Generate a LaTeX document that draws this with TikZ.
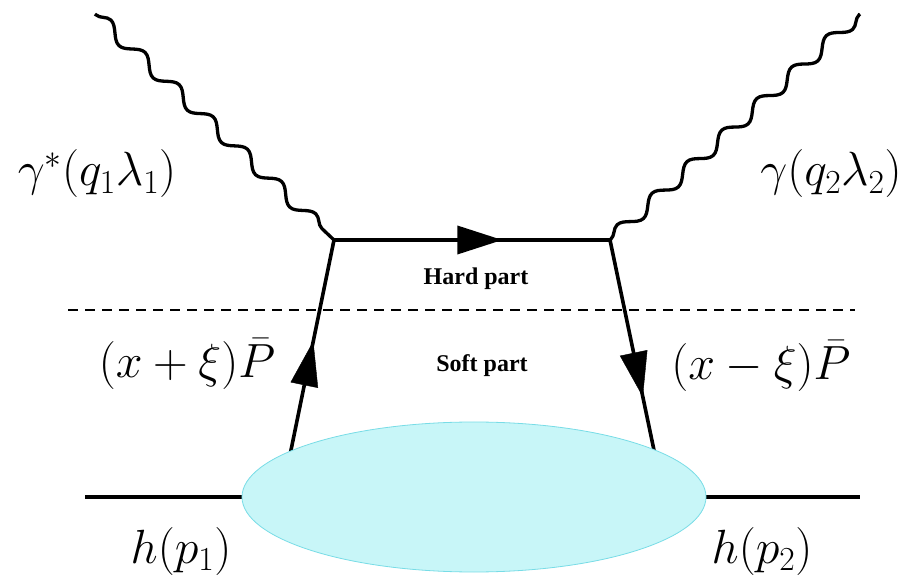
\RequirePackage{fix-cm}
\documentclass[tikz,border=0pt]{standalone}
\usepackage{fontspec}
\setmainfont{Liberation Serif}
\usetikzlibrary{arrows.meta,decorations.pathmorphing,decorations.markings,shapes.geometric}
\begin{document}
\begin{tikzpicture}[x=1pt,y=-1pt,
  photon/.style={line width=3.3pt,decorate,decoration={snake,segment length=47pt,amplitude=6.5pt,pre length=1pt,post length=1pt}},
  quark/.style={line width=3.6pt},
  fermarrow/.style={postaction={decorate},decoration={markings,mark=at position #1 with {\arrow{Triangle[length=45pt,width=28pt]}}}},
  biglabel/.style={anchor=base,inner sep=0pt,font=\fontsize{48}{56}\selectfont},
  partlabel/.style={anchor=base,inner sep=0pt,font=\bfseries\fontsize{24}{28}\selectfont},
  blobstyle/.style={ellipse,draw={rgb,255:red,120;green,220;blue,230},line width=0.8pt,fill={rgb,255:red,200;green,246;blue,248},minimum width=464pt,minimum height=150pt,inner sep=0pt}
]
\useasboundingbox (0,0) rectangle (914,585);
% vertices
\coordinate (v1) at (334,240);
\coordinate (v2) at (610,240);
\coordinate (p1) at (95,14);
\coordinate (p2) at (860,14);
\coordinate (hl) at (85,497);
\coordinate (hr) at (860,497);
\coordinate (dl) at (68,310);
\coordinate (dr) at (855,310);
\coordinate (b1) at (290,455);
\coordinate (b2) at (655,455);
% hadron lines
\draw[quark] (hl) -- (250,497);
\draw[quark] (700,497) -- (hr);
% quark lines
\draw[quark] (v1) -- (b1);
\draw[quark] (v2) -- (b2);
\draw[quark,fermarrow=0.61] (v1) -- (v2);
% arrows on side lines
\path[fermarrow=0.53] (b1) -- (v1);
\path[fermarrow=0.73] (v2) -- (b2);
% blob
\node[blobstyle] (blob) at (474,497) {};
% photons
\draw[photon] (p1) -- (v1);
\draw[photon] (v2) -- (p2);
% dashed cut
\draw[line width=1.2pt,dash pattern=on 10pt off 7pt] (dl) -- (dr);
% labels
\node[biglabel] (l1) at (97,186) {$\gamma^*(q_1\lambda_1)$};
\node[biglabel] (l2) at (831,186) {$\gamma(q_2\lambda_2)$};
\node[biglabel] (l3) at (187,378) {$(x+\xi)\bar{P}$};
\node[biglabel] (l4) at (761,380) {$(x-\xi)\bar{P}$};
\node[biglabel] (l5) at (181,563) {$h(p_1)$};
\node[biglabel] (l6) at (762,563) {$h(p_2)$};
\node[partlabel] (hard) at (476,285) {Hard part};
\node[partlabel] (soft) at (482,372) {Soft part};
\end{tikzpicture}
\end{document}
